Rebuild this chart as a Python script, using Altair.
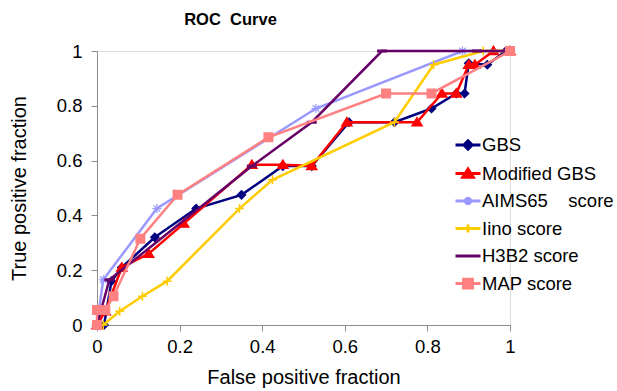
import altair as alt
import pandas as pd

# ---- data ----
series_names = ["GBS", "Modified GBS", "AIMS65\u00a0\u00a0\u00a0 score", "Iino score", "H3B2 score", "MAP score"]

gbs_x = [0, 0.017, 0.035, 0.06, 0.14, 0.24, 0.35, 0.45, 0.52, 0.61, 0.72, 0.81, 0.87, 0.89, 0.90, 0.945, 0.99, 1.0]
gbs_y = [0, 0, 0.16, 0.21, 0.32, 0.425, 0.475, 0.58, 0.58, 0.74, 0.74, 0.79, 0.845, 0.845, 0.955, 0.95, 1.0, 1.0]

mgbs_x = [0, 0.02, 0.06, 0.125, 0.21, 0.375, 0.45, 0.52, 0.605, 0.775, 0.835, 0.87, 0.90, 0.915, 0.96, 1.0]
mgbs_y = [0, 0.05, 0.21, 0.26, 0.37, 0.585, 0.585, 0.58, 0.74, 0.74, 0.845, 0.845, 0.95, 0.95, 1.0, 1.0]

aims_x = [0, 0.015, 0.145, 0.53, 0.885, 1.0]
aims_y = [0, 0.165, 0.425, 0.79, 1.0, 1.0]

iino_x = [0.015, 0.055, 0.11, 0.17, 0.345, 0.425, 0.72, 0.815, 0.935, 1.0]
iino_y = [0, 0.05, 0.105, 0.16, 0.425, 0.53, 0.74, 0.95, 1.0, 1.0]

h3b2_x = [0, 0.03, 0.375, 0.52, 0.69, 0.92, 1.0]
h3b2_y = [0, 0.165, 0.58, 0.74, 1.0, 1.0, 1.0]

map_x = [0, 0, 0.02, 0.04, 0.105, 0.195, 0.415, 0.70, 0.81, 1.0]
map_y = [0, 0.055, 0.055, 0.105, 0.315, 0.475, 0.685, 0.845, 0.845, 1.0]

tick_values = [0, 0.2, 0.4, 0.6, 0.8, 1]

# ---- styles ----
colors = ["#000080", "#FF0000", "#9999FF", "#FFCC00", "#660066", "#FF8080"]
marker_paths = [
    "M0,-0.8L0.8,0L0,0.8L-0.8,0Z",
    "M0,-0.9L1.0,0.7L-1.0,0.7Z",
    "M-0.9,0L0.9,0M0,-0.9L0,0.9M-0.65,-0.65L0.65,0.65M-0.65,0.65L0.65,-0.65",
    "M-0.9,0L0.9,0M0,-0.9L0,0.9",
    "M-1,0L1,0",
    "M-0.85,-0.85L0.85,-0.85L0.85,0.85L-0.85,0.85Z",
]
marker_stroke = [1.5, 1.5, 1.2, 1.5, 3, 1.5]
legend_paths = [
    "M-1,0L1,0M0,-0.33L0.33,0L0,0.33L-0.33,0Z",
    "M-1,0L1,0M0,-0.36L0.42,0.3L-0.42,0.3Z",
    "M-1,0L1,0M-0.32,0L0.32,0M0,-0.32L0,0.32M-0.23,-0.23L0.23,0.23M-0.23,0.23L0.23,-0.23",
    "M-1,0L1,0M0,-0.32L0,0.32",
    "M-1,0L1,0",
    "M-1,0L1,0M-0.35,-0.35L0.35,-0.35L0.35,0.35L-0.35,0.35Z",
]

xs = [gbs_x, mgbs_x, aims_x, iino_x, h3b2_x, map_x]
ys = [gbs_y, mgbs_y, aims_y, iino_y, h3b2_y, map_y]
rows = []
for name, sx, sy in zip(series_names, xs, ys):
    for i, (a, b) in enumerate(zip(sx, sy)):
        rows.append({"series": name, "x": a, "y": b, "idx": i})
df = pd.DataFrame(rows)

FONT = "Liberation Sans"
x_enc = alt.X("x:Q", scale=alt.Scale(domain=[0, 1], nice=False),
              axis=alt.Axis(values=tick_values, format=".1~f", title="False positive fraction",
                            grid=False, labelFlush=False, labelOverlap=False,
                            domainColor="#8c8c8c", tickColor="#8c8c8c", tickSize=6,
                            labelFont=FONT, labelFontSize=18.5, labelColor="black", labelPadding=6,
                            titleFont=FONT, titleFontSize=20, titleFontWeight="normal",
                            titleColor="black", titlePadding=12))
y_enc = alt.Y("y:Q", scale=alt.Scale(domain=[0, 1], nice=False),
              axis=alt.Axis(values=tick_values, format=".1~f", title="True positive fraction",
                            grid=False, labelFlush=False, labelOverlap=False,
                            domainColor="#8c8c8c", tickColor="#8c8c8c", tickSize=6,
                            labelFont=FONT, labelFontSize=18.5, labelColor="black", labelPadding=9,
                            titleFont=FONT, titleFontSize=20, titleFontWeight="normal",
                            titleColor="black", titlePadding=27))

base = alt.Chart(df)
layers = []
for name, c, mp, sw in zip(series_names, colors, marker_paths, marker_stroke):
    sub = base.transform_filter(alt.datum.series == name)
    layers.append(sub.mark_line(color=c, strokeWidth=2.5).encode(x=x_enc, y=y_enc, order="idx:Q"))
    layers.append(sub.mark_point(shape=mp, filled=True, fill=c, stroke=c, strokeWidth=sw,
                                 size=100, opacity=1).encode(x=x_enc, y=y_enc))

leg = alt.Legend(title=None, orient="none", legendX=357, legendY=80, padding=0,
                 symbolSize=625, symbolStrokeWidth=3, symbolOpacity=1, rowPadding=3.5,
                 labelFont=FONT, labelFontSize=18.5, labelColor="black", labelOffset=0,
                 labelLimit=300, symbolLimit=0)
legend_layer = base.transform_filter("false").mark_point(filled=True, size=625, opacity=1).encode(
    shape=alt.Shape("series:N", scale=alt.Scale(domain=series_names, range=legend_paths), legend=leg),
    fill=alt.Fill("series:N", scale=alt.Scale(domain=series_names, range=colors), legend=leg),
    stroke=alt.Stroke("series:N", scale=alt.Scale(domain=series_names, range=colors), legend=leg),
)
layers.append(legend_layer)

chart = alt.layer(*layers).properties(
    width=413, height=274,
    title=alt.TitleParams("ROC\u00a0 Curve", font=FONT, fontSize=16.5, fontWeight="bold",
                          color="black", anchor="middle", dx=-73, offset=14),
    autosize=alt.AutoSizeParams(type="none"),
    padding={"left": 97, "top": 51, "right": 107, "bottom": 66},
).configure_view(stroke=None).configure(background="white")

chart.save("out.html", embed_options={"renderer": "svg", "actions": False})
